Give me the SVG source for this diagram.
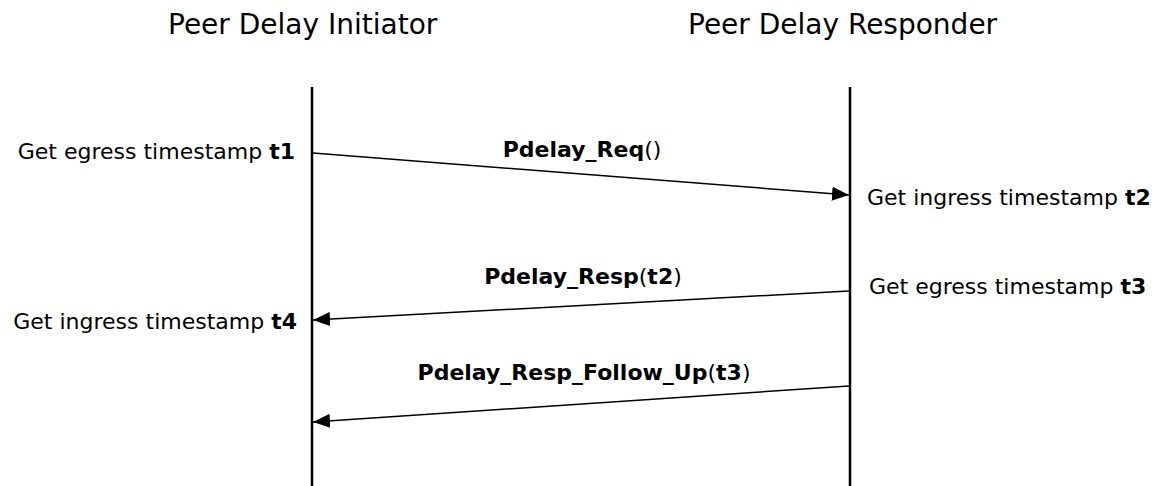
<svg xmlns="http://www.w3.org/2000/svg" width="1162" height="486" viewBox="0 0 1162 486">
<defs>
<style>
.title{font-family:"DejaVu Sans",sans-serif;font-size:28px;fill:#000}
.lbl{font-family:"DejaVu Sans",sans-serif;font-size:22px;fill:#000}
.msg{font-family:"DejaVu Sans",sans-serif;font-size:22px;font-weight:bold;fill:#000}
.b{font-weight:bold}
.n{font-weight:normal}
.life{stroke:#000;stroke-width:2.5;fill:none}
.arrow{stroke:#000;stroke-width:1.5;fill:none;marker-end:url(#ah)}
</style>
<marker id="ah" viewBox="0 0 17 14" refX="17" refY="7" markerWidth="17" markerHeight="14" markerUnits="userSpaceOnUse" orient="auto">
<path d="M0,0 L17,7 L0,14 z" fill="#000"/>
</marker>
</defs>
<rect width="1162" height="486" fill="#fff"/>
<g id="initiator">
<text class="title" x="168" y="34">Peer Delay Initiator</text>
<line class="life" x1="312" y1="87" x2="312" y2="486"/>
</g>
<g id="responder">
<text class="title" x="688" y="34">Peer Delay Responder</text>
<line class="life" x1="850" y1="87" x2="850" y2="486" stroke-width="3"/>
</g>
<g id="notes">
<text class="lbl" x="295" y="159" text-anchor="end">Get egress timestamp <tspan class="b">t1</tspan></text>
<text class="lbl" x="867" y="205">Get ingress timestamp <tspan class="b">t2</tspan></text>
<text class="lbl" x="869" y="294">Get egress timestamp <tspan class="b">t3</tspan></text>
<text class="lbl" x="297" y="329" text-anchor="end">Get ingress timestamp <tspan class="b">t4</tspan></text>
</g>
<g id="connectors">
<line class="arrow" x1="313" y1="153" x2="849" y2="195"/>
<text class="msg" x="582" y="157" text-anchor="middle">Pdelay_Req<tspan class="n">()</tspan></text>
<line class="arrow" x1="849" y1="291" x2="313" y2="320"/>
<text class="msg" x="583" y="284" text-anchor="middle">Pdelay_Resp<tspan class="n">(</tspan>t2<tspan class="n">)</tspan></text>
<line class="arrow" x1="849" y1="386" x2="313" y2="422"/>
<text class="msg" x="584" y="380" text-anchor="middle">Pdelay_Resp_Follow_Up<tspan class="n">(</tspan>t3<tspan class="n">)</tspan></text>
</g>
</svg>
